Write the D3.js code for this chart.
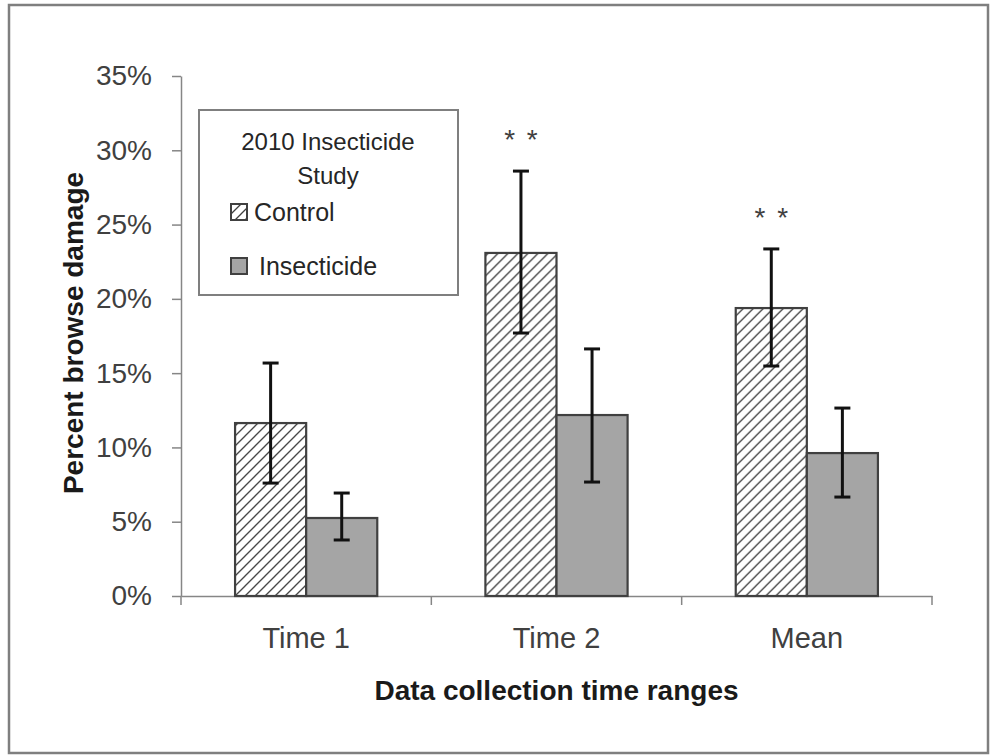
<!DOCTYPE html>
<html>
<head>
<meta charset="utf-8">
<script src="https://cdn.jsdelivr.net/npm/d3@7"></script>
<style>
  body { margin: 0; background: #fff; }
  svg { display: block; font-family: "Liberation Sans", Arial, sans-serif; }
  .axis path, .axis line { stroke: #868686; stroke-width: 1.5; }
  .axis text { fill: #404040; }
</style>
</head>
<body>
<div id="chart"></div>
<script>
var categories = ['Time 1', 'Time 2', 'Mean'];
var seriesNames = ['Control', 'Insecticide'];
var controlValues = [11.64, 23.09, 19.38];
var controlErrHigh = [15.68, 28.6, 23.36];
var controlErrLow = [7.6, 17.7, 15.48];
var insecticideValues = [5.25, 12.18, 9.62];
var insecticideErrHigh = [6.93, 16.63, 12.65];
var insecticideErrLow = [3.77, 7.67, 6.66];
var significance = ['', '* *', '* *'];
var yTicks = [0, 5, 10, 15, 20, 25, 30, 35];

var width = 992;
var height = 756;
var margin = { top: 76, right: 60, bottom: 160, left: 181 };

var svg = d3.select('#chart')
    .append('svg')
    .attr('width', width)
    .attr('height', height);

// outer chart frame
svg.append('rect')
    .attr('x', 9)
    .attr('y', 5)
    .attr('width', 979)
    .attr('height', 748)
    .attr('fill', '#fff')
    .attr('stroke', '#7f7f7f')
    .attr('stroke-width', 2.5);

// hatch for control bars
var defs = svg.append('defs');
var hatch = defs.append('pattern')
    .attr('id', 'hatch')
    .attr('patternUnits', 'userSpaceOnUse')
    .attr('width', 10)
    .attr('height', 10);
hatch.append('rect')
    .attr('width', 10)
    .attr('height', 10)
    .attr('fill', '#fff');
hatch.append('path')
    .attr('d', 'M-1,1 l2,-2 M0,10 l10,-10 M9,11 l2,-2')
    .attr('stroke', '#404040')
    .attr('stroke-width', 1.3);

var plotW = 932 - margin.left;
var plotH = 596 - margin.top;

var g = svg.append('g')
    .attr('transform', 'translate(' + margin.left + ',' + margin.top + ')');

var x = d3.scaleBand()
    .domain(categories)
    .range([0, plotW])
    .paddingInner(0.432)
    .paddingOuter(0.216);

var xSub = d3.scaleBand()
    .domain(seriesNames)
    .range([0, x.bandwidth()]);

var y = d3.scaleLinear()
    .domain([0, 35])
    .range([plotH, 0]);

// y axis
var yAxis = g.append('g')
    .attr('class', 'axis')
    .call(d3.axisLeft(y)
        .tickValues(yTicks)
        .tickSize(9)
        .tickSizeOuter(0)
        .tickPadding(20)
        .tickFormat(function(d) { return d + '%'; }));
yAxis.selectAll('text').style('font-size', '28px');

// x axis: labels at centers, ticks at boundaries
var xAxis = g.append('g')
    .attr('class', 'axis')
    .attr('transform', 'translate(0,' + plotH + ')')
    .call(d3.axisBottom(x).tickSize(0).tickSizeOuter(0).tickPadding(31));
xAxis.selectAll('text').style('font-size', '29px');

var boundaries = d3.range(categories.length + 1).map(function(i) { return i * x.step(); });
xAxis.selectAll('.boundary')
    .data(boundaries)
    .enter()
    .append('line')
    .attr('class', 'boundary')
    .attr('x1', function(d) { return d; })
    .attr('x2', function(d) { return d; })
    .attr('y1', 0)
    .attr('y2', 9);

// bars
var rows = categories.map(function(c, i) {
    return {
        cat: c,
        sig: significance[i],
        series: [
            { name: 'Control', value: controlValues[i], hi: controlErrHigh[i], lo: controlErrLow[i] },
            { name: 'Insecticide', value: insecticideValues[i], hi: insecticideErrHigh[i], lo: insecticideErrLow[i] }
        ]
    };
});

var groups = g.selectAll('.group')
    .data(rows)
    .enter()
    .append('g')
    .attr('class', 'group')
    .attr('transform', function(d) { return 'translate(' + x(d.cat) + ',0)'; });

groups.selectAll('rect')
    .data(function(d) { return d.series; })
    .enter()
    .append('rect')
    .attr('x', function(d) { return xSub(d.name); })
    .attr('y', function(d) { return y(d.value); })
    .attr('width', xSub.bandwidth())
    .attr('height', function(d) { return plotH - y(d.value); })
    .attr('fill', function(d) { return d.name === 'Control' ? 'url(#hatch)' : '#a5a5a5'; })
    .attr('stroke', '#404040')
    .attr('stroke-width', 2.2);

// error bars
var errs = groups.selectAll('.err')
    .data(function(d) { return d.series; })
    .enter()
    .append('g')
    .attr('class', 'err')
    .attr('transform', function(d) { return 'translate(' + (xSub(d.name) + xSub.bandwidth() / 2) + ',0)'; });

errs.append('line')
    .attr('y1', function(d) { return y(d.hi); })
    .attr('y2', function(d) { return y(d.lo); })
    .attr('stroke', '#111')
    .attr('stroke-width', 3);

errs.selectAll('.cap')
    .data(function(d) { return [d.hi, d.lo]; })
    .enter()
    .append('line')
    .attr('class', 'cap')
    .attr('x1', -8)
    .attr('x2', 8)
    .attr('y1', function(d) { return y(d); })
    .attr('y2', function(d) { return y(d); })
    .attr('stroke', '#111')
    .attr('stroke-width', 3);

// significance marks
groups.append('text')
    .attr('x', xSub('Control') + xSub.bandwidth() / 2 + 1)
    .attr('y', function(d) { return y(d.series[0].hi) - 22; })
    .attr('text-anchor', 'middle')
    .style('font-size', '28px')
    .style('letter-spacing', '2px')
    .attr('fill', '#404040')
    .text(function(d) { return d.sig; });

// axis titles
svg.append('text')
    .attr('transform', 'translate(83,' + (margin.top + plotH / 2 - 3) + ') rotate(-90)')
    .attr('text-anchor', 'middle')
    .style('font-size', '28px')
    .style('font-weight', 'bold')
    .attr('fill', '#1a1a1a')
    .text('Percent browse damage');

svg.append('text')
    .attr('x', margin.left + plotW / 2)
    .attr('y', 700)
    .attr('text-anchor', 'middle')
    .style('font-size', '28px')
    .style('font-weight', 'bold')
    .attr('fill', '#1a1a1a')
    .text('Data collection time ranges');

// legend
var legend = svg.append('g').attr('transform', 'translate(199,110)');

legend.append('rect')
    .attr('width', 259)
    .attr('height', 185)
    .attr('fill', '#fff')
    .attr('stroke', '#7f7f7f')
    .attr('stroke-width', 2);

legend.selectAll('.title')
    .data(['2010 Insecticide', 'Study'])
    .enter()
    .append('text')
    .attr('class', 'title')
    .attr('x', 129)
    .attr('y', function(d, i) { return 40 + i * 34; })
    .attr('text-anchor', 'middle')
    .style('font-size', '24px')
    .attr('fill', '#262626')
    .text(function(d) { return d; });

var items = legend.selectAll('.item')
    .data(seriesNames)
    .enter()
    .append('g')
    .attr('class', 'item')
    .attr('transform', function(d, i) { return 'translate(32,' + (94 + i * 54) + ')'; });

items.append('rect')
    .attr('width', 16)
    .attr('height', 16)
    .attr('fill', function(d) { return d === 'Control' ? 'url(#hatch)' : '#a5a5a5'; })
    .attr('stroke', '#404040')
    .attr('stroke-width', 2);

items.append('text')
    .attr('x', function(d) { return d === 'Control' ? 23 : 28; })
    .attr('y', 17)
    .style('font-size', '25px')
    .attr('fill', '#262626')
    .text(function(d) { return d; });
</script>
</body>
</html>
